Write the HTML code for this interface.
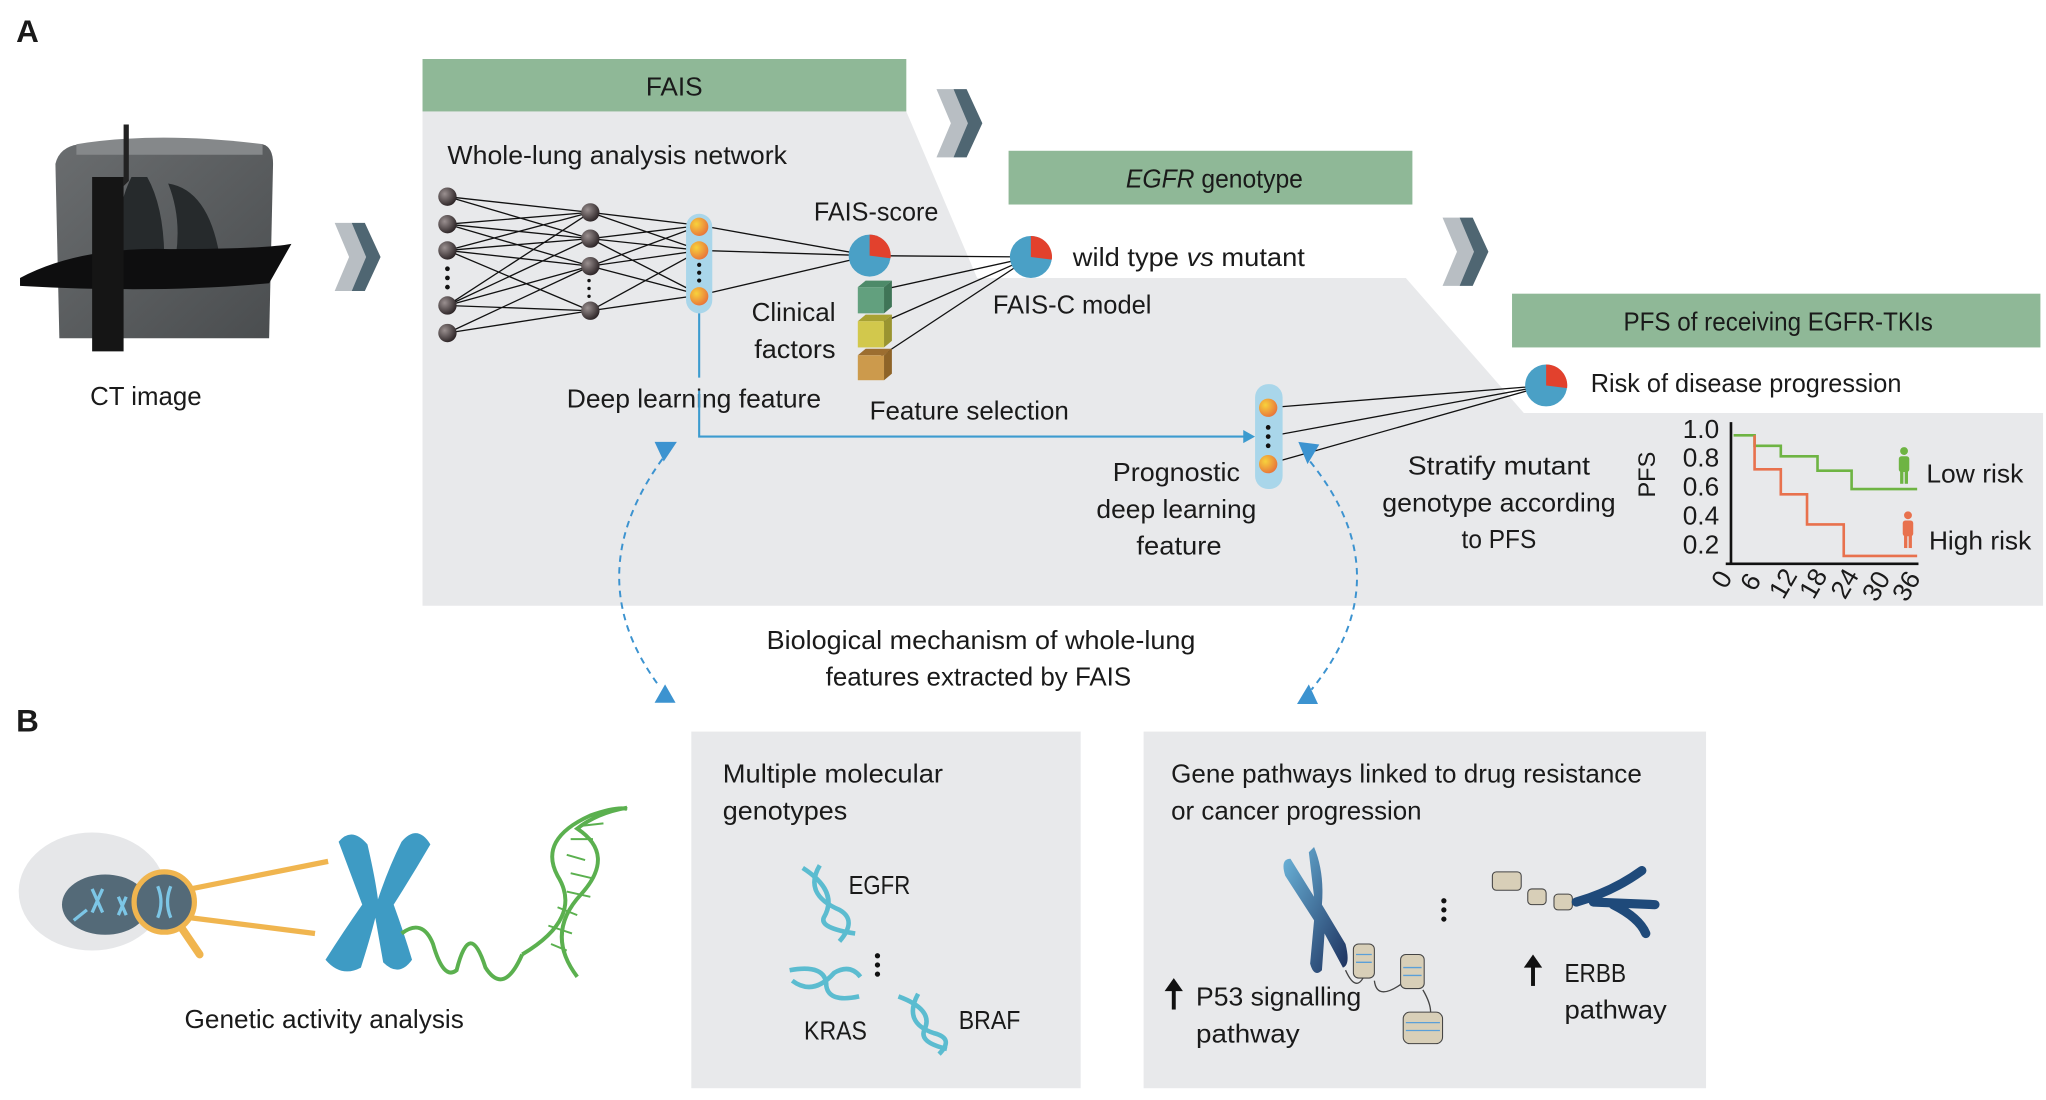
<!DOCTYPE html>
<html><head><meta charset="utf-8"><style>
html,body{margin:0;padding:0;background:#fff;}
svg{display:block;}
text{font-family:"Liberation Sans",sans-serif;font-size:20px;fill:#1a1a1a;}
</style></head><body>
<svg width="2046" height="1100" viewBox="0 0 1560 839" xmlns="http://www.w3.org/2000/svg">
<defs>
<radialGradient id="nd" cx="0.35" cy="0.35" r="0.7"><stop offset="0" stop-color="#9a9090"/><stop offset="1" stop-color="#2a2224"/></radialGradient>
<radialGradient id="on" cx="0.35" cy="0.35" r="0.7"><stop offset="0" stop-color="#f7d23c"/><stop offset="1" stop-color="#e8743a"/></radialGradient>
<linearGradient id="chr" x1="0" y1="0" x2="1" y2="1"><stop offset="0" stop-color="#6cb6dc"/><stop offset="1" stop-color="#1c2f5c"/></linearGradient>
<linearGradient id="ct" x1="0" y1="0" x2="1" y2="1"><stop offset="0" stop-color="#6a6d6f"/><stop offset="1" stop-color="#4a4d4f"/></linearGradient>
</defs>
<text x="12" y="32" style="font-size:24px;font-weight:bold">A</text>
<text x="12" y="558" style="font-size:24px;font-weight:bold">B</text>

<polygon points="322,85 691,85 745,212 1072,212 1162,315 1558,315 1558,462 322,462" fill="#e8e9eb"/>
<rect x="322" y="45" width="369" height="40" fill="#8fb897"/>
<text x="514" y="73" text-anchor="middle">FAIS</text>
<rect x="769" y="115" width="308" height="41" fill="#8fb897"/>
<text x="926" y="143" text-anchor="middle" textLength="135" lengthAdjust="spacingAndGlyphs"><tspan font-style="italic">EGFR</tspan> genotype</text>
<rect x="1153" y="224" width="403" height="41" fill="#8fb897"/>
<text x="1356" y="252" text-anchor="middle" textLength="236" lengthAdjust="spacingAndGlyphs">PFS of receiving EGFR-TKIs</text>

<g id="chev"><polygon points="255,170 268,170 280,196 268,222 255,222 266,196" fill="#b8bec3"/><polygon points="268,170 278,170 290,196 278,222 268,222 279,196" fill="#4f6672"/></g>
<use href="#chev" x="459" y="-102"/>
<use href="#chev" x="845" y="-4"/>

<!-- CT cube -->
<path d="M42,125 Q45,112 60,110 L200,110 Q208,112 208,125 L205,258 L45,258 Z" fill="url(#ct)"/>
<path d="M58,110 Q120,100 200,110 L200,118 L58,118 Z" fill="#85888a"/>
<path d="M100,135 Q85,165 92,205 Q110,210 125,205 Q126,160 112,135 Z M128,140 Q160,145 168,200 Q150,210 132,205 Q140,170 128,140 Z" fill="#262a2c"/>
<path d="M15,212 Q60,188 130,190 Q200,190 222,186 L205,216 Q120,224 15,218 Z" fill="#0e0e0f"/>
<rect x="70" y="135" width="24" height="133" fill="#151515"/>
<polygon points="94,95 98,95 98,138 94,142" fill="#222"/>
<text x="111" y="309" text-anchor="middle" textLength="85" lengthAdjust="spacingAndGlyphs">CT image</text>

<text x="341" y="125" textLength="259" lengthAdjust="spacingAndGlyphs">Whole-lung analysis network</text>

<g stroke="#111" stroke-width="1" fill="none">
<path d="M341,150L450,162M341,150L450,182M341,171L450,162M341,171L450,182M341,171L450,203M341,191L450,162M341,191L450,182M341,191L450,203M341,191L450,237M341,233L450,162M341,233L450,182M341,233L450,237M341,254L450,203M341,254L450,237M341,233L450,203M341,191L450,237"/>
<path d="M450,162L534,172M450,162L534,191M450,182L534,172M450,182L534,191M450,182L534,225M450,203L534,172M450,203L534,191M450,203L534,225M450,237L534,191M450,237L534,225"/>
<path d="M534,172L663,195M534,191L663,195M534,225L663,195M663,195L786,196M668,222L786,196M668,248L786,196M668,274L786,196"/>
<path d="M967,311L1179,294M967,333L1179,294M967,354L1179,294"/>
</g>
<g fill="url(#nd)">
<circle cx="341" cy="150" r="7"/><circle cx="341" cy="171" r="7"/><circle cx="341" cy="191" r="7"/><circle cx="341" cy="233" r="7"/><circle cx="341" cy="254" r="7"/>
<circle cx="450" cy="162" r="7"/><circle cx="450" cy="182" r="7"/><circle cx="450" cy="203" r="7"/><circle cx="450" cy="237" r="7"/>
</g>
<g fill="#111"><circle cx="341" cy="205" r="1.8"/><circle cx="341" cy="212" r="1.8"/><circle cx="341" cy="219" r="1.8"/>
<circle cx="449" cy="214" r="1.3"/><circle cx="449" cy="220" r="1.3"/><circle cx="449" cy="226" r="1.3"/></g>
<rect x="523" y="163" width="20" height="76" rx="10" fill="#a9d6ea"/>
<g fill="url(#on)"><circle cx="533" cy="173" r="7"/><circle cx="533" cy="191" r="7"/><circle cx="533" cy="226" r="7"/></g>
<g fill="#111"><circle cx="533" cy="202" r="1.6"/><circle cx="533" cy="208" r="1.6"/><circle cx="533" cy="214" r="1.6"/></g>

<g id="pie"><circle cx="663" cy="195" r="16" fill="#4aa0c6"/><path d="M663,195 L663,179 A16,16 0 0 1 679,197 Z" fill="#e2412d"/></g>
<use href="#pie" x="123" y="1"/>
<use href="#pie" x="516" y="99"/>
<text x="668" y="168" text-anchor="middle" textLength="95" lengthAdjust="spacingAndGlyphs">FAIS-score</text>
<text x="818" y="203" textLength="177" lengthAdjust="spacingAndGlyphs">wild type <tspan font-style="italic">vs</tspan> mutant</text>
<text x="757" y="239" textLength="121" lengthAdjust="spacingAndGlyphs">FAIS-C model</text>
<g><polygon points="654,219 660,214 680,214 674,219" fill="#4d8a69"/><rect x="654" y="219" width="20" height="20" fill="#62a07e"/><polygon points="674,219 680,214 680,234 674,239" fill="#3f7557"/>
<polygon points="654,245 660,240 680,240 674,245" fill="#a8a233"/><rect x="654" y="245" width="20" height="20" fill="#d2c84c"/><polygon points="674,245 680,240 680,260 674,265" fill="#9a9430"/>
<polygon points="654,271 660,266 680,266 674,271" fill="#9c6e30"/><rect x="654" y="271" width="20" height="19" fill="#cc9a4c"/><polygon points="674,271 680,266 680,285 674,290" fill="#8e6428"/></g>
<text x="605" y="245" text-anchor="middle" textLength="64" lengthAdjust="spacingAndGlyphs">Clinical</text>
<text x="606" y="273" text-anchor="middle" textLength="62" lengthAdjust="spacingAndGlyphs">factors</text>
<text x="529" y="311" text-anchor="middle" textLength="194" lengthAdjust="spacingAndGlyphs">Deep learning feature</text>
<text x="739" y="320" text-anchor="middle" textLength="152" lengthAdjust="spacingAndGlyphs">Feature selection</text>

<path d="M533,239 V288 M533,298 V333 H950" stroke="#3c9bcf" stroke-width="1.6" fill="none"/>
<polygon points="957,333 948,328 948,338" fill="#3c9bcf"/>
<rect x="957" y="293" width="21" height="80" rx="10" fill="#a9d6ea"/>
<g fill="url(#on)"><circle cx="967" cy="311" r="7"/><circle cx="967" cy="354" r="7"/></g>
<g fill="#111"><circle cx="967" cy="326" r="1.8"/><circle cx="967" cy="333" r="1.8"/><circle cx="967" cy="340" r="1.8"/></g>
<text x="897" y="367" text-anchor="middle" textLength="97" lengthAdjust="spacingAndGlyphs">Prognostic</text>
<text x="897" y="395" text-anchor="middle" textLength="122" lengthAdjust="spacingAndGlyphs">deep learning</text>
<text x="899" y="423" text-anchor="middle" textLength="65" lengthAdjust="spacingAndGlyphs">feature</text>
<text x="1213" y="299" textLength="237" lengthAdjust="spacingAndGlyphs">Risk of disease progression</text>
<text x="1143" y="362" text-anchor="middle" textLength="139" lengthAdjust="spacingAndGlyphs">Stratify mutant</text>
<text x="1143" y="390" text-anchor="middle" textLength="178" lengthAdjust="spacingAndGlyphs">genotype according</text>
<text x="1143" y="418" text-anchor="middle" textLength="57" lengthAdjust="spacingAndGlyphs">to PFS</text>

<path d="M1320,322 V431 M1316,430 H1463" stroke="#111" stroke-width="2" fill="none"/>
<g style="font-size:18px" text-anchor="end">
<text x="1311" y="334">1.0</text><text x="1311" y="356">0.8</text><text x="1311" y="378">0.6</text><text x="1311" y="400">0.4</text><text x="1311" y="422">0.2</text></g>
<text x="1270" y="370" text-anchor="middle" transform="rotate(-90 1262 370)" style="font-size:18px">PFS</text>
<g style="font-size:16px">
<text transform="translate(1316,450) rotate(-60)">0</text>
<text transform="translate(1338,452) rotate(-60)">6</text>
<text transform="translate(1360,458) rotate(-60)">12</text>
<text transform="translate(1383,458) rotate(-60)">18</text>
<text transform="translate(1407,458) rotate(-60)">24</text>
<text transform="translate(1431,460) rotate(-60)">30</text>
<text transform="translate(1454,460) rotate(-60)">36</text></g>
<path d="M1322,332 H1338 V340 H1358 V348 H1386 V359 H1412 V373 H1462" stroke="#6eb443" stroke-width="2" fill="none"/>
<path d="M1338,332 V358 H1358 V377 H1378 V400 H1406 V424 H1462" stroke="#e8714d" stroke-width="2" fill="none"/>
<g fill="#6eb443"><circle cx="1452" cy="344" r="3"/><rect x="1448" y="348" width="8" height="12" rx="2"/><rect x="1449" y="359" width="2.5" height="10"/><rect x="1452.5" y="359" width="2.5" height="10"/></g>
<g fill="#e8714d"><circle cx="1455" cy="393" r="3"/><rect x="1451" y="397" width="8" height="12" rx="2"/><rect x="1452" y="408" width="2.5" height="10"/><rect x="1455.5" y="408" width="2.5" height="10"/></g>
<text x="1469" y="368" textLength="74" lengthAdjust="spacingAndGlyphs">Low risk</text>
<text x="1471" y="419" textLength="78" lengthAdjust="spacingAndGlyphs">High risk</text>

<g stroke="#3c93d0" stroke-width="1.5" stroke-dasharray="5,4" fill="none">
<path d="M505,350 Q440,440 503,524"/>
<path d="M999,352 Q1070,440 1000,526"/></g>
<g fill="#3c93d0">
<polygon points="499,337 516,337 506,352"/><polygon points="990,337 1006,339 997,354"/>
<polygon points="507,522 499,536 515,536"/><polygon points="998,522 989,537 1005,537"/></g>
<text x="748" y="495" text-anchor="middle" textLength="327" lengthAdjust="spacingAndGlyphs">Biological mechanism of whole-lung</text>
<text x="746" y="523" text-anchor="middle" textLength="233" lengthAdjust="spacingAndGlyphs">features extracted by FAIS</text>

<!-- B left -->
<ellipse cx="70" cy="680" rx="56" ry="45" fill="#e6e7e9"/>
<ellipse cx="80" cy="690" rx="33" ry="23" fill="#546a78"/>
<path d="M145,678 L250,657 M145,700 L240,712" stroke="#f0b54f" stroke-width="4"/>
<path d="M135,703 L152,728" stroke="#f0b54f" stroke-width="6" stroke-linecap="round"/>
<circle cx="125" cy="688" r="23" fill="#546a78" stroke="#f0b54f" stroke-width="4"/>
<g stroke="#7cc6e6" stroke-width="2.5" fill="none"><path d="M120,676 Q125,688 120,700 M130,676 Q125,688 130,700"/><path d="M70,678 L78,696 M78,678 L70,696"/><path d="M90,684 L96,698 M96,684 L90,698"/><path d="M56,702 L66,694"/></g>
<path d="M258,642 Q268,630 280,644 Q286,670 288,686 Q296,662 306,642 Q318,628 328,644 Q314,668 300,690 Q308,712 314,732 Q304,746 292,734 L286,700 Q282,716 275,738 Q260,746 248,732 Q262,710 276,690 Z" fill="#3e9bc4"/>
<path d="M306,712 Q322,700 330,720 Q338,748 348,740 Q358,700 370,738 Q384,760 398,728" stroke="#5bb04f" stroke-width="3" fill="none"/>
<g stroke="#5bb04f" stroke-width="3" fill="none"><path d="M398,728 Q445,700 425,668 Q410,640 450,622 Q470,615 478,617"/><path d="M440,745 Q415,712 443,682 Q470,652 440,632 Q455,620 478,616"/></g>
<g stroke="#5bb04f" stroke-width="1.5"><path d="M420,720 L432,725 M418,706 L436,712 M425,692 L440,698 M432,680 L450,684 M435,666 L452,670 M432,652 L446,656 M435,640 L452,640 M442,630 L460,628"/></g>
<text x="247" y="784" text-anchor="middle" textLength="213" lengthAdjust="spacingAndGlyphs">Genetic activity analysis</text>

<!-- Box 1 -->
<rect x="527" y="558" width="297" height="272" fill="#e8e9eb"/>
<text x="551" y="597" textLength="168" lengthAdjust="spacingAndGlyphs">Multiple molecular</text>
<text x="551" y="625" textLength="95" lengthAdjust="spacingAndGlyphs">genotypes</text>
<g stroke="#5bbcd0" stroke-width="3.5" fill="none">
<path d="M612,662 Q640,680 628,700 Q625,708 652,712"/><path d="M625,660 Q612,682 640,694 Q654,702 640,718"/>
<path d="M602,740 Q630,735 630,752 Q632,765 655,760"/><path d="M604,748 Q620,760 636,742 Q648,735 656,745"/>
<path d="M685,760 Q712,770 705,785 Q700,795 722,800"/><path d="M700,758 Q688,780 712,788 Q728,792 716,804"/></g>
<g fill="#111"><circle cx="669" cy="729" r="2"/><circle cx="669" cy="736" r="2"/><circle cx="669" cy="743" r="2"/></g>
<text x="647" y="682" textLength="47" lengthAdjust="spacingAndGlyphs">EGFR</text>
<text x="613" y="793" textLength="48" lengthAdjust="spacingAndGlyphs">KRAS</text>
<text x="731" y="785" textLength="47" lengthAdjust="spacingAndGlyphs">BRAF</text>

<!-- Box 2 -->
<rect x="872" y="558" width="429" height="272" fill="#e8e9eb"/>
<text x="893" y="597" textLength="359" lengthAdjust="spacingAndGlyphs">Gene pathways linked to drug resistance</text>
<text x="893" y="625" textLength="191" lengthAdjust="spacingAndGlyphs">or cancer progression</text>
<path d="M1002,646 Q1010,665 1008,690 L1026,720 Q1030,736 1024,738 L1010,712 L1008,740 Q1002,746 999,735 L1002,702 L980,668 Q976,655 984,655 L1002,684 L998,650 Z" fill="url(#chr)"/>
<path d="M1026,740 Q1035,760 1042,740 M1048,748 Q1050,765 1072,748 M1085,755 Q1095,772 1088,780" stroke="#444" stroke-width="1" fill="none"/>
<g fill="#d8cfb8" stroke="#444" stroke-width="0.8"><rect x="1032" y="720" width="16" height="26" rx="4"/><rect x="1068" y="728" width="18" height="26" rx="4"/><rect x="1070" y="772" width="30" height="24" rx="5"/><rect x="1138" y="665" width="22" height="14" rx="3"/><rect x="1165" y="678" width="14" height="12" rx="3"/><rect x="1185" y="682" width="14" height="12" rx="3"/></g>
<g stroke="#5a9fd8" stroke-width="1"><path d="M1034,728 H1046 M1034,734 H1046 M1070,738 H1084 M1070,744 H1084 M1072,780 H1098 M1072,786 H1098"/></g>
<path d="M1202,688 Q1230,680 1252,664 M1215,688 L1262,690 M1230,690 Q1250,700 1255,712" stroke="#1f4a7a" stroke-width="7" fill="none" stroke-linecap="round"/>
<g fill="#111"><circle cx="1101" cy="687" r="2"/><circle cx="1101" cy="694" r="2"/><circle cx="1101" cy="701" r="2"/></g>
<path d="M895,770 V752" stroke="#111" stroke-width="3"/><polygon points="895,746 888,756 902,756" fill="#111"/>
<path d="M1169,752 V734" stroke="#111" stroke-width="3"/><polygon points="1169,728 1162,738 1176,738" fill="#111"/>
<text x="912" y="767" textLength="126" lengthAdjust="spacingAndGlyphs">P53 signalling</text>
<text x="912" y="795" textLength="79" lengthAdjust="spacingAndGlyphs">pathway</text>
<text x="1193" y="749" textLength="47" lengthAdjust="spacingAndGlyphs">ERBB</text>
<text x="1193" y="777" textLength="78" lengthAdjust="spacingAndGlyphs">pathway</text>
</svg>
</body></html>
